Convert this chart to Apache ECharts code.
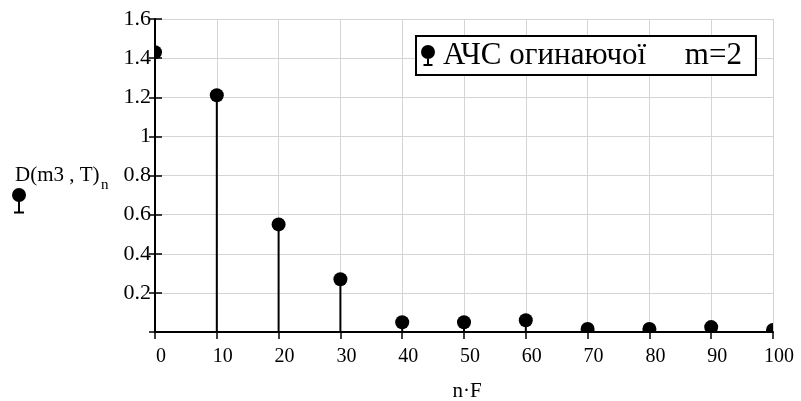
<!DOCTYPE html>
<html><head><meta charset="utf-8">
<script src="https://cdn.jsdelivr.net/npm/echarts@6/dist/echarts.min.js"></script>
<style>html,body{margin:0;padding:0;background:#fff}#c{width:801px;height:401px}</style>
</head><body><div id="c"></div>
<script>
var nF = [0, 10, 20, 30, 40, 50, 60, 70, 80, 90, 100];
var D = [1.43, 1.21, 0.55, 0.27, 0.05, 0.05, 0.06, 0.015, 0.015, 0.025, 0.01];
var seriesName = 'АЧС огинаючої     m=2';
var xName = 'n·F';
var yName = 'D(m3 , T)';
var yNameSub = 'n';

var data = nF.map(function (x, i) { return [x, D[i]]; });
var font = 'Liberation Serif, Times New Roman, serif';
var pin = 'path://M7,0 A7,7 0 1,1 6.99,0 Z M6,12 L8,12 L8,19.5 L6,19.5 Z M2.5,19 L11.5,19 L11.5,21 L2.5,21 Z';

var chart = echarts.init(document.getElementById('c'), null, {renderer: 'canvas'});
chart.setOption({
  animation: false,
  backgroundColor: '#fff',
  grid: {left: 155, right: 28, top: 19, bottom: 69, containLabel: false, outerBoundsMode: 'none'},
  legend: {
    left: 416, top: 36, orient: 'horizontal',
    data: [{name: seriesName, icon: pin}],
    itemWidth: 14, itemHeight: 21, itemGap: 6,
    padding: [4, 14, 4, 5],
    backgroundColor: '#fff', borderColor: '#000', borderWidth: 2,
    textStyle: {fontFamily: font, fontSize: 31, color: '#000', padding: [0, 0, 0, 3]}
  },
  xAxis: {
    type: 'value', min: 0, max: 100, interval: 10,
    name: xName, nameLocation: 'middle', nameGap: 49,
    nameTextStyle: {fontFamily: font, fontSize: 21, color: '#000', padding: [0, 0, 0, 6]},
    axisLine: {show: true, onZero: false, lineStyle: {color: '#000', width: 2}},
    axisTick: {show: true, length: 7, lineStyle: {color: '#000', width: 1.5}},
    axisLabel: {fontFamily: font, fontSize: 20, color: '#000', margin: 15, padding: [0, 0, 0, 12]},
    splitLine: {show: true, lineStyle: {color: '#d4d4d4', width: 1}}
  },
  yAxis: [{
    type: 'value', min: 0, max: 1.6, interval: 0.2,
    axisLine: {show: true, onZero: false, lineStyle: {color: '#000', width: 2}},
    axisTick: {show: true, length: 6, lineStyle: {color: '#000', width: 1.5}},
    axisLabel: {fontFamily: font, fontSize: 22, color: '#000', margin: 4,
      formatter: function (v) { return v === 0 ? '' : String(Math.round(v * 10) / 10); }},
    splitLine: {show: true, lineStyle: {color: '#d4d4d4', width: 1}}
  }, {
    type: 'value', min: 0, max: 1.6, interval: 0.2, position: 'left',
    axisLine: {show: false}, axisLabel: {show: false}, splitLine: {show: false},
    axisTick: {show: true, inside: true, length: 7, lineStyle: {color: '#000', width: 1.5}}
  }],
  graphic: [
    {type: 'text', x: 15, y: 165, style: {text: yName, font: '21px ' + font, fill: '#000'}},
    {type: 'text', x: 101, y: 178, style: {text: yNameSub, font: '15px ' + font, fill: '#000'}},
    {type: 'circle', shape: {cx: 19, cy: 195, r: 7}, style: {fill: '#000'}},
    {type: 'rect', shape: {x: 18, y: 200, width: 2, height: 12}, style: {fill: '#000'}},
    {type: 'rect', shape: {x: 14, y: 211.5, width: 10, height: 2}, style: {fill: '#000'}}
  ],
  series: [{
    name: seriesName, type: 'custom', clip: true,
    data: data,
    itemStyle: {color: '#000'},
    renderItem: function (params, api) {
      var p = api.coord([api.value(0), api.value(1)]);
      var b = api.coord([api.value(0), 0]);
      return {type: 'group', children: [
        {type: 'line', shape: {x1: b[0], y1: b[1], x2: p[0], y2: p[1]}, style: {stroke: '#000', lineWidth: 2}},
        {type: 'circle', shape: {cx: p[0], cy: p[1], r: 7}, style: {fill: '#000'}}
      ]};
    }
  }]
});
</script></body></html>
